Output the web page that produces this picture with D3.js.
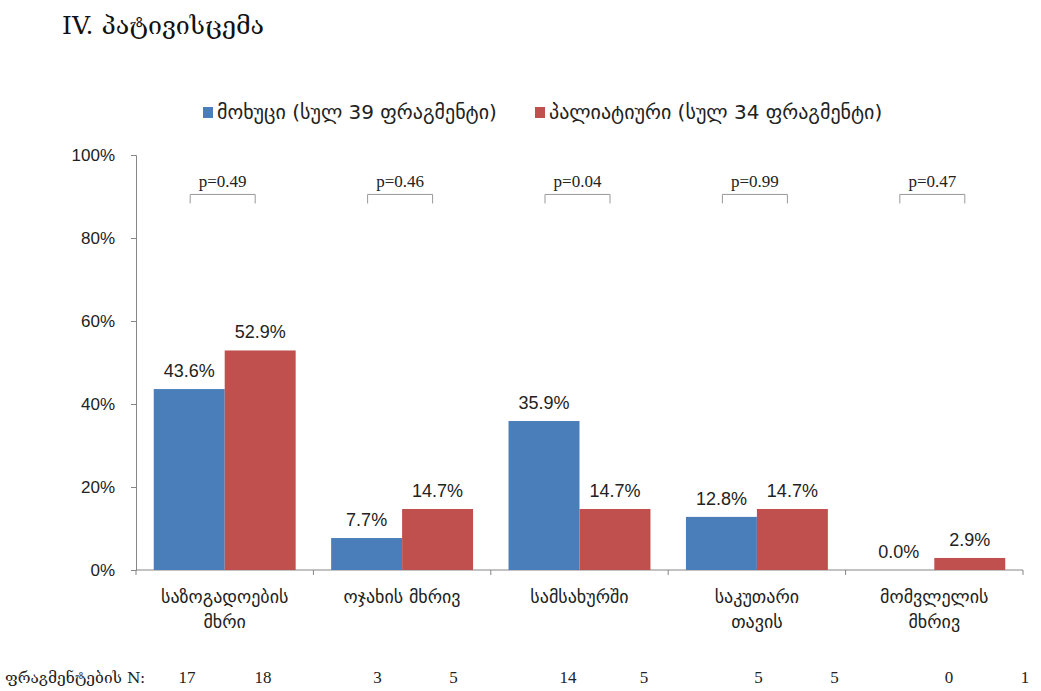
<!DOCTYPE html>
<html>
<head>
<meta charset="utf-8">
<script src="https://cdn.jsdelivr.net/npm/d3@7/dist/d3.min.js"></script>
<style>
  html, body { margin: 0; padding: 0; background: #fff; }
  svg { display: block; }
</style>
</head>
<body>
<svg id="chart" width="1041" height="691"></svg>
<script>
// ---- data ----
const title = "IV. პატივისცემა";
const categories = [["საზოგადოების", "მხრი"], ["ოჯახის მხრივ"], ["სამსახურში"], ["საკუთარი", "თავის"], ["მომვლელის", "მხრივ"]];
const seriesNames = ["მოხუცი (სულ 39 ფრაგმენტი)", "პალიატიური (სულ 34 ფრაგმენტი)"];
const elderly = [43.6, 7.7, 35.9, 12.8, 0.0];
const palliative = [52.9, 14.7, 14.7, 14.7, 2.9];
const pValues = ["p=0.49", "p=0.46", "p=0.04", "p=0.99", "p=0.47"];
const countsElderly = [17, 3, 14, 5, 0];
const countsPalliative = [18, 5, 5, 5, 1];
const countsLabel = "ფრაგმენტების N:";
const yTicks = [0, 20, 40, 60, 80, 100];
const colors = ["#4a7ebb", "#c0504d"];

// ---- layout ----
const svg = d3.select("#chart");
const margin = { left: 136, right: 18, top: 155, bottom: 121 };
const W = 1041, H = 691;
const x0 = d3.scaleBand().domain(d3.range(categories.length)).range([margin.left, W - margin.right]).paddingInner(0).paddingOuter(0);
const x1 = d3.scaleBand().domain([0, 1]).range([0, x0.bandwidth()]).paddingInner(0).paddingOuter(0.25);
const y = d3.scaleLinear().domain([0, 100]).range([H - margin.bottom, margin.top]);

const sans = "'Liberation Sans', Arial, sans-serif";
const geo = "'DejaVu Sans', sans-serif";
const serif = "'Liberation Serif', 'DejaVu Serif', serif";

// title
svg.append("text").attr("x", 62).attr("y", 34)
  .attr("font-family", "'DejaVu Serif', serif").attr("font-size", 25).attr("fill", "#111")
  .text(title);

// legend
const legend = svg.append("g").attr("transform", "translate(203,113)");
const legX = [0, 332];
seriesNames.forEach((n, i) => {
  const g = legend.append("g").attr("transform", `translate(${legX[i]},0)`);
  g.append("rect").attr("x", 0).attr("y", -6).attr("width", 10).attr("height", 11).attr("fill", colors[i]);
  g.append("text").attr("x", 14).attr("y", 6).attr("font-family", geo).attr("font-size", 20).attr("fill", "#222").text(n);
});

// y axis
const yAxis = d3.axisLeft(y).tickValues(yTicks).tickFormat(d => d + "%").tickSize(5).tickPadding(16);
const yg = svg.append("g").attr("transform", `translate(${margin.left},0)`).call(yAxis);
yg.select(".domain").attr("stroke", "#868686");
yg.selectAll(".tick line").attr("stroke", "#868686");
yg.selectAll(".tick text").attr("font-family", sans).attr("font-size", 17).attr("fill", "#222");

// x axis line and separators
const xg = svg.append("g");
xg.append("line").attr("x1", margin.left).attr("x2", W - margin.right)
  .attr("y1", y(0)).attr("y2", y(0)).attr("stroke", "#868686");
const seps = d3.range(categories.length + 1).map(i => i < categories.length ? x0(i) : x0(categories.length - 1) + x0.bandwidth());
xg.selectAll("line.sep").data(seps).join("line").attr("class", "sep")
  .attr("x1", d => d).attr("x2", d => d).attr("y1", y(0)).attr("y2", y(0) + 5).attr("stroke", "#868686");

// bars
const data = categories.map((c, i) => ({ i, vals: [elderly[i], palliative[i]] }));
const groups = svg.append("g").selectAll("g").data(data).join("g")
  .attr("transform", d => `translate(${x0(d.i)},0)`);
groups.selectAll("rect").data(d => d.vals.map((v, s) => ({ v, s }))).join("rect")
  .attr("x", d => x1(d.s)).attr("width", x1.bandwidth())
  .attr("y", d => y(d.v)).attr("height", d => y(0) - y(d.v))
  .attr("fill", d => colors[d.s]);
groups.selectAll("text.val").data(d => d.vals.map((v, s) => ({ v, s }))).join("text").attr("class", "val")
  .attr("x", d => x1(d.s) + x1.bandwidth() / 2).attr("y", d => y(d.v) - 12)
  .attr("text-anchor", "middle").attr("font-family", sans).attr("font-size", 18).attr("fill", "#222")
  .text(d => d.v.toFixed(1) + "%");

// category labels
categories.forEach((lines, i) => {
  const t = svg.append("text").attr("text-anchor", "middle")
    .attr("font-family", geo).attr("font-size", 18).attr("fill", "#222");
  lines.forEach((l, k) => {
    t.append("tspan").attr("x", x0(i) + x0.bandwidth() / 2).attr("y", 603 + k * 25).text(l);
  });
});

// p-value brackets
pValues.forEach((p, i) => {
  const cx = x0(i) + x0.bandwidth() / 2 - 2;
  const half = 32.5;
  const by = y(90.5);
  svg.append("path")
    .attr("d", `M${cx - half},${by + 9}V${by}H${cx + half}V${by + 9}`)
    .attr("fill", "none").attr("stroke", "#999").attr("stroke-width", 1);
  svg.append("text").attr("x", cx).attr("y", by - 7).attr("text-anchor", "middle")
    .attr("font-family", serif).attr("font-size", 17).attr("fill", "#222").text(p);
});

// counts row
const pairScale = d3.scaleLinear().domain([0, categories.length - 1]).range([225, 987]);
svg.append("text").attr("x", 5).attr("y", 683).attr("font-family", "'DejaVu Serif', serif")
  .attr("font-size", 15.5).attr("fill", "#222").text(countsLabel);
categories.forEach((c, i) => {
  [countsElderly[i], countsPalliative[i]].forEach((n, s) => {
    svg.append("text").attr("x", pairScale(i) + (s === 0 ? -38 : 38)).attr("y", 683)
      .attr("text-anchor", "middle").attr("font-family", serif).attr("font-size", 17).attr("fill", "#222").text(n);
  });
});
</script>
</body>
</html>
